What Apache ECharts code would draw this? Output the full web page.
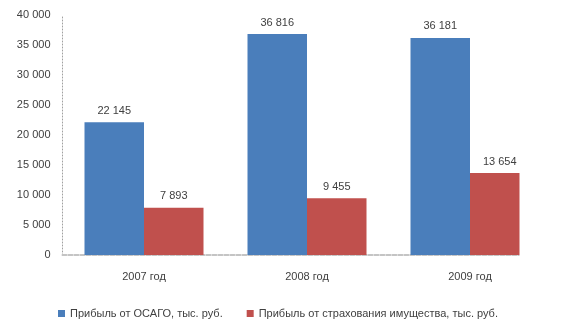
<!DOCTYPE html>
<html>
<head>
<meta charset="utf-8">
<script src="https://cdn.jsdelivr.net/npm/echarts@6/dist/echarts.min.js"></script>
<style>
  html, body { margin: 0; padding: 0; background: #ffffff; }
  #chart { width: 566px; height: 330px; }
</style>
</head>
<body>
<div id="chart"></div>
<script>
// Profit by insurance line, thousand rubles
const categories = ['2007 год', '2008 год', '2009 год'];
const osagoProfit = [22145, 36816, 36181];
const propertyProfit = [7893, 9455, 13654];
const seriesNames = ['Прибыль от ОСАГО, тыс. руб.', 'Прибыль от страхования имущества, тыс. руб.'];

const FONT = 'Liberation Sans';
const TEXT = '#404040';

// "36 816" style grouping with a space
function fmt(v) {
  return String(Math.round(v)).replace(/\B(?=(\d{3})+(?!\d))/g, ' ');
}

const chart = echarts.init(document.getElementById('chart'), null, { renderer: 'canvas' });

const labelCfg = {
  show: true,
  position: 'top',
  distance: 6,
  color: TEXT,
  fontFamily: FONT,
  fontSize: 11,
  formatter: p => fmt(p.value)
};

chart.setOption({
  animation: false,
  backgroundColor: '#ffffff',
  textStyle: { fontFamily: FONT },
  grid: { left: 62.5, right: 14.5, top: 15, bottom: 75 },
  legend: {
    left: 53,
    top: 303,
    itemWidth: 7,
    itemHeight: 7,
    itemGap: 24,
    icon: 'rect',
    textStyle: { color: TEXT, fontFamily: FONT, fontSize: 11 },
    data: seriesNames
  },
  xAxis: {
    type: 'category',
    data: categories,
    axisLine: { show: true, lineStyle: { color: '#c4c4c4', width: 2, type: [4, 2] } },
    axisTick: { show: false },
    axisLabel: { color: TEXT, fontFamily: FONT, fontSize: 11, margin: 16 }
  },
  yAxis: {
    type: 'value',
    min: 0,
    max: 40000,
    interval: 5000,
    axisLine: { show: true, lineStyle: { color: '#a0a0a0', width: 1, type: [1, 2] } },
    axisTick: { show: false },
    splitLine: { show: false },
    axisLabel: { color: TEXT, fontFamily: FONT, fontSize: 11, margin: 12, formatter: v => fmt(v) }
  },
  series: [
    {
      name: seriesNames[0],
      type: 'bar',
      data: osagoProfit,
      barWidth: 59.5,
      barGap: '0%',
      itemStyle: { color: '#4a7ebb' },
      label: labelCfg
    },
    {
      name: seriesNames[1],
      type: 'bar',
      data: propertyProfit,
      barWidth: 59.5,
      barGap: '0%',
      itemStyle: { color: '#c0504d' },
      label: labelCfg
    }
  ],
  // the plot area is cut off on the right side
  graphic: [
    {
      type: 'rect',
      z: 100,
      shape: { x: 519.5, y: 0, width: 50, height: 262 },
      style: { fill: '#ffffff' },
      silent: true
    }
  ]
});
</script>
</body>
</html>
